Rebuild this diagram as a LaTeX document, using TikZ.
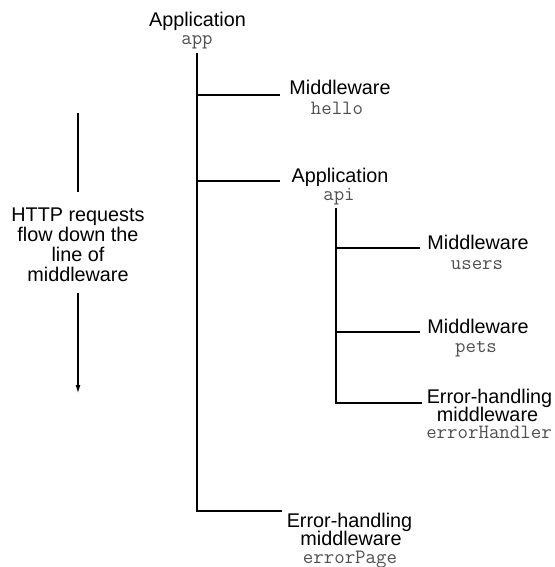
\documentclass[tikz,border=0pt]{standalone}
\usepackage{fontspec}
\setmainfont{Liberation Sans}
\usetikzlibrary{arrows.meta}
\definecolor{codegray}{RGB}{80,80,80}
\begin{document}
\begin{tikzpicture}[x=1pt,y=-1pt,
  lbl/.style={anchor=base,inner sep=0pt,font=\fontsize{19.8pt}{22pt}\selectfont},
  code/.style={anchor=base,inner sep=0pt,text=codegray,font=\ttfamily\fontsize{20.3pt}{22pt}\selectfont},
  wire/.style={line width=1.1pt,black}]
\useasboundingbox (0,0) rectangle (554,567);

% labels
\node[lbl] (appT) at (197.5,27) {Application};
\node[code] (appC) at (197,45) {app};
\node[lbl] (helloT) at (340,95) {Middleware};
\node[code] (helloC) at (337,115) {hello};
\node[lbl] (apiT) at (340,182) {Application};
\node[code] (apiC) at (339,200) {api};
\node[lbl] (usersT) at (478,249) {Middleware};
\node[code] (usersC) at (477,269) {users};
\node[lbl] (petsT) at (478,333) {Middleware};
\node[code] (petsC) at (476,352) {pets};
\node[lbl] (ehT1) at (489.5,403.5) {Error-handling};
\node[lbl] (ehT2) at (487.5,421.5) {middleware};
\node[code] (ehC) at (489,438) {errorHandler};
\node[lbl] (epT1) at (349.5,527) {Error-handling};
\node[lbl] (epT2) at (351,545) {middleware};
\node[code] (epC) at (350,563) {errorPage};

% left note
\node[lbl] (f1) at (78,221) {HTTP requests};
\node[lbl] (f2) at (78,241) {flow down the};
\node[lbl] (f3) at (78,261) {line of};
\node[lbl] (f4) at (78,281) {middleware};

\coordinate (aTop) at (78,113);
\coordinate (aMid) at (78,192);
\coordinate (bTop) at (78,293);
\coordinate (bEnd) at (78,393);
\draw[wire] (aTop) -- (aMid);
\draw[wire,-{Latex[length=8pt,width=5pt]}] (bTop) -- (bEnd);

% main trunk
\coordinate (trunkTop) at (197,53);
\coordinate (epEnd) at (282,511);
\coordinate (helloEnd) at (280,95);
\coordinate (apiEnd) at (280,181);
\draw[wire] (trunkTop) |- (epEnd);
\draw[wire] (trunkTop |- helloEnd) -- (helloEnd);
\draw[wire] (trunkTop |- apiEnd) -- (apiEnd);

% api sub-trunk
\coordinate (subTop) at (336,208);
\coordinate (ehEnd) at (422,403);
\coordinate (usersEnd) at (420,248);
\coordinate (petsEnd) at (420,332);
\draw[wire] (subTop) |- (ehEnd);
\draw[wire] (subTop |- usersEnd) -- (usersEnd);
\draw[wire] (subTop |- petsEnd) -- (petsEnd);
\end{tikzpicture}
\end{document}
